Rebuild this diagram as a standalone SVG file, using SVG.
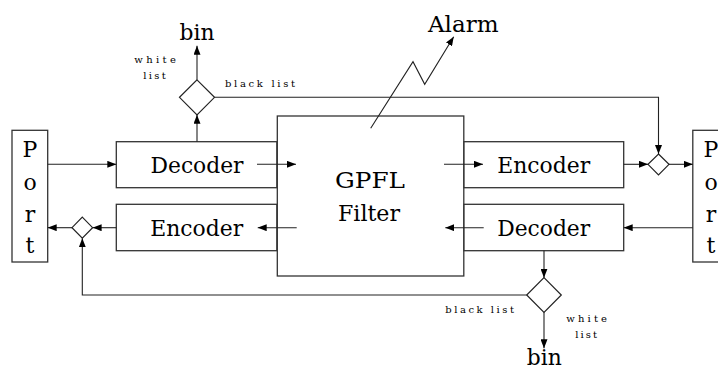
<svg xmlns="http://www.w3.org/2000/svg" width="718" height="370" viewBox="0 0 718 370">
<style>
.box{fill:#fff;stroke:#333;stroke-width:1.3}
.dia{fill:#fff;stroke:#222;stroke-width:1.2}
.ln{fill:none;stroke:#222;stroke-width:1.1;marker-end:url(#ah)}
.t{font-family:"DejaVu Serif","Liberation Serif",serif;font-size:22px;fill:#000;text-anchor:middle}
.s{font-family:"DejaVu Serif","Liberation Serif",serif;font-size:10px;fill:#000}
</style>
<defs>
<marker id="ah" viewBox="0 0 9 7" refX="9" refY="3.5" markerWidth="9" markerHeight="7" markerUnits="userSpaceOnUse" orient="auto">
<path d="M0,0 L9,3.5 L0,7 z" fill="#000"/>
</marker>
</defs>
<rect width="718" height="370" fill="#fff"/>

<g id="gpfl">
<rect class="box" x="277.3" y="116" width="186.5" height="160"/>
<text class="t" x="370" y="188.3" textLength="70" lengthAdjust="spacingAndGlyphs">GPFL</text>
<text class="t" x="369" y="221" textLength="62" lengthAdjust="spacingAndGlyphs">Filter</text>
</g>

<g id="port-left">
<rect class="box" x="12" y="130.3" width="35.7" height="131.7"/>
<text class="t" x="30" y="156.7">P</text>
<text class="t" x="30" y="190">o</text>
<text class="t" x="30" y="221.7">r</text>
<text class="t" x="30" y="253.3">t</text>
</g>

<g id="port-right">
<rect class="box" x="692.8" y="130.3" width="35.7" height="131.7"/>
<text class="t" x="711" y="156.7">P</text>
<text class="t" x="711" y="190">o</text>
<text class="t" x="711" y="221.7">r</text>
<text class="t" x="711" y="253.3">t</text>
</g>

<g id="decoder-top">
<rect class="box" x="116.3" y="141.7" width="160.5" height="46"/>
<text class="t" x="197" y="173" textLength="93" lengthAdjust="spacingAndGlyphs">Decoder</text>
</g>

<g id="encoder-bottom">
<rect class="box" x="116.3" y="204.3" width="160.5" height="46.4"/>
<text class="t" x="196.7" y="236.3" textLength="93" lengthAdjust="spacingAndGlyphs">Encoder</text>
</g>

<g id="encoder-top">
<rect class="box" x="464" y="141.7" width="159.7" height="46"/>
<text class="t" x="543.7" y="173" textLength="93" lengthAdjust="spacingAndGlyphs">Encoder</text>
</g>

<g id="decoder-bottom">
<rect class="box" x="464" y="204.3" width="159.7" height="46.4"/>
<text class="t" x="543.7" y="236.3" textLength="93" lengthAdjust="spacingAndGlyphs">Decoder</text>
</g>

<g id="diamond-top">
<polygon class="dia" points="197,79.8 214.5,97.3 197,114.8 179.5,97.3"/>
</g>
<g id="diamond-right">
<polygon class="dia" points="658.5,154 669,164.3 658.5,174.8 648,164.3"/>
</g>
<g id="diamond-left">
<polygon class="dia" points="82.3,217.2 92.6,227.7 82.3,238.2 72,227.7"/>
</g>
<g id="diamond-bottom">
<polygon class="dia" points="544,277.7 561.3,295 544,312.3 526.7,295"/>
</g>

<g id="labels">
<text class="t" x="197" y="40" textLength="35" lengthAdjust="spacingAndGlyphs">bin</text>
<text class="t" x="544.2" y="365" textLength="35" lengthAdjust="spacingAndGlyphs">bin</text>
<text class="t" x="463.3" y="31.7" textLength="70.7" lengthAdjust="spacingAndGlyphs">Alarm</text>
<text class="s" x="134.3" y="63.3" textLength="41.5" lengthAdjust="spacing">white</text>
<text class="s" x="143.3" y="78.7" textLength="22.5" lengthAdjust="spacing">list</text>
<text class="s" x="225" y="87.3" textLength="70" lengthAdjust="spacing">black list</text>
<text class="s" x="445.3" y="313.3" textLength="68.7" lengthAdjust="spacing">black list</text>
<text class="s" x="566.3" y="322.3" textLength="40.7" lengthAdjust="spacing">white</text>
<text class="s" x="575.3" y="338.3" textLength="21.7" lengthAdjust="spacing">list</text>
</g>

<g id="connectors">
<line class="ln" x1="47.7" y1="164.3" x2="116.3" y2="164.3"/>
<line class="ln" x1="257" y1="164.3" x2="296" y2="164.3"/>
<line class="ln" x1="197" y1="141.7" x2="197" y2="114.8"/>
<line class="ln" x1="197" y1="79.8" x2="197" y2="45.7"/>
<polyline class="ln" points="214.5,97.3 658.5,97.3 658.5,154"/>
<line class="ln" x1="444" y1="164.3" x2="483" y2="164.3"/>
<line class="ln" x1="623.7" y1="164.3" x2="648" y2="164.3"/>
<line class="ln" x1="669" y1="164.3" x2="692.8" y2="164.3"/>
<line class="ln" x1="692.8" y1="227.7" x2="623.7" y2="227.7"/>
<line class="ln" x1="483.7" y1="227.7" x2="445.3" y2="227.7"/>
<line class="ln" x1="296.7" y1="227.7" x2="257.7" y2="227.7"/>
<line class="ln" x1="116.3" y1="227.7" x2="92.6" y2="227.7"/>
<line class="ln" x1="72" y1="227.7" x2="47.7" y2="227.7"/>
<line class="ln" x1="544" y1="250.7" x2="544" y2="277.7"/>
<polyline class="ln" points="526.7,295 82.3,295 82.3,238.2"/>
<line class="ln" x1="544" y1="312.3" x2="544" y2="348.3"/>
<polyline class="ln" points="370.7,128.3 413,61.7 424.7,84.3 453.7,36.7"/>
</g>
</svg>
